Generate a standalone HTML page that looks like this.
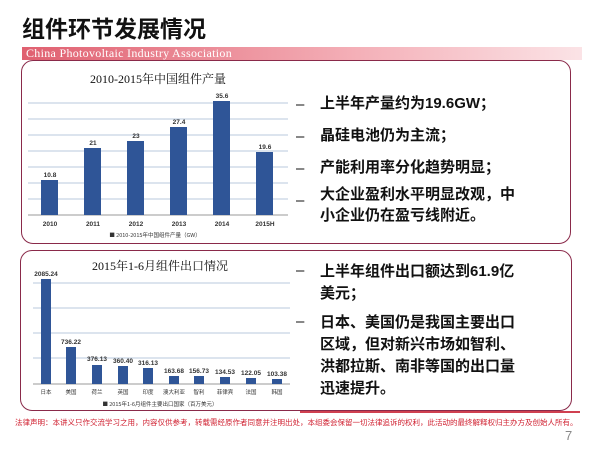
<!DOCTYPE html>
<html><head><meta charset="utf-8"><style>
body{margin:0;width:600px;height:450px;background:#fff;position:relative;overflow:hidden;font-family:"Liberation Sans","Noto Sans CJK SC",sans-serif}
.a{position:absolute;white-space:nowrap}
.panel{position:absolute;border:1.5px solid #8a2a4a;border-radius:12px;box-sizing:border-box}
.t{font-weight:bold;font-size:15px;color:#111}
</style></head><body>
<div class="a" style="left:22px;top:10px;font-size:23px;font-weight:bold;color:#111;font-family:'Noto Sans CJK SC',sans-serif">组件环节发展情况</div>
<div class="a" style="left:22px;top:47px;width:560px;height:13px;background:linear-gradient(90deg,#e06070,#f4b0b8 60%,#fbe3e6)"></div>
<div class="a" style="left:26px;top:46px;font-size:12px;color:#fff;font-family:'Liberation Serif',serif;letter-spacing:0.3px">China Photovoltaic Industry Association</div>
<div class="panel" style="left:21px;top:60px;width:550px;height:184px"></div>
<div class="panel" style="left:20px;top:250px;width:552px;height:161px"></div>
<svg class="a" style="left:0;top:0" width="600" height="450">
<g font-family="Liberation Serif,Noto Serif CJK SC,serif" font-size="12" fill="#111" text-anchor="middle">
<text x="158" y="83">2010-2015年中国组件产量</text>
<text x="160" y="270">2015年1-6月组件出口情况</text></g>
<g stroke="#b8c8dc" stroke-width="1">
<line x1="28" x2="288" y1="103" y2="103"/><line x1="28" x2="288" y1="119" y2="119"/><line x1="28" x2="288" y1="135" y2="135"/><line x1="28" x2="288" y1="151" y2="151"/><line x1="28" x2="288" y1="167" y2="167"/><line x1="28" x2="288" y1="183" y2="183"/><line x1="28" x2="288" y1="199" y2="199"/>
<line x1="33" x2="290" y1="283" y2="283"/><line x1="33" x2="290" y1="308" y2="308"/><line x1="33" x2="290" y1="333" y2="333"/><line x1="33" x2="290" y1="358" y2="358"/></g>
<line x1="28" x2="288" y1="215" y2="215" stroke="#999"/>
<line x1="33" x2="290" y1="384" y2="384" stroke="#999"/>
<g fill="#2f5597">
<rect x="41" y="180" width="17" height="35"/><rect x="84" y="148" width="17" height="67"/><rect x="127" y="141" width="17" height="74"/><rect x="170" y="127" width="17" height="88"/><rect x="213" y="101" width="17" height="114"/><rect x="256" y="152" width="17" height="63"/>
<rect x="41" y="279" width="10" height="105"/><rect x="66" y="347" width="10" height="37"/><rect x="92" y="365" width="10" height="19"/><rect x="118" y="366" width="10" height="18"/><rect x="143" y="368" width="10" height="16"/><rect x="169" y="376" width="10" height="8"/><rect x="194" y="376" width="10" height="8"/><rect x="220" y="377" width="10" height="7"/><rect x="246" y="378" width="10" height="6"/><rect x="272" y="379" width="10" height="5"/>
</g>
<g font-size="6.5" font-weight="bold" fill="#333" text-anchor="middle">
<text x="50" y="177">10.8</text><text x="93" y="145">21</text><text x="136" y="138">23</text><text x="179" y="124">27.4</text><text x="222" y="98">35.6</text><text x="265" y="149">19.6</text>
<text x="50" y="226">2010</text><text x="93" y="226">2011</text><text x="136" y="226">2012</text><text x="179" y="226">2013</text><text x="222" y="226">2014</text><text x="265" y="226">2015H</text>
<text x="46" y="276">2085.24</text><text x="71" y="344">736.22</text><text x="97" y="361">376.13</text><text x="123" y="363">360.40</text><text x="148" y="365">316.13</text><text x="174" y="373">163.68</text><text x="199" y="373">156.73</text><text x="225" y="374">134.53</text><text x="251" y="375">122.05</text><text x="277" y="376">103.38</text>
</g>
<g font-size="5.5" fill="#333" text-anchor="middle" font-family="Noto Sans CJK SC,sans-serif">
<text x="46" y="394">日本</text><text x="71" y="394">美国</text><text x="97" y="394">荷兰</text><text x="123" y="394">英国</text><text x="148" y="394">印度</text><text x="174" y="394">澳大利亚</text><text x="199" y="394">智利</text><text x="225" y="394">菲律宾</text><text x="251" y="394">法国</text><text x="277" y="394">韩国</text>
<text x="155" y="237">■ 2010-2015年中国组件产量（GW）</text>
<text x="160" y="406">■ 2015年1-6月组件主要出口国家（百万美元）</text></g>
</svg>
<div class="a" style="left:296px;top:89px;font-size:15px;line-height:32px;color:#111">–<br>–<br>–<br>–</div>
<div class="a t" style="left:320px;top:88px;line-height:32px">上半年产量约为19.6GW；<br>晶硅电池仍为主流；<br>产能利用率分化趋势明显；</div>
<div class="a t" style="left:320px;top:184px;line-height:21px">大企业盈利水平明显改观，中<br>小企业仍在盈亏线附近。</div>
<div class="a" style="left:296px;top:262px;font-size:15px;color:#111">–</div>
<div class="a t" style="left:320px;top:261px;line-height:22px">上半年组件出口额达到61.9亿<br>美元；</div>
<div class="a" style="left:296px;top:313px;font-size:15px;color:#111">–</div>
<div class="a t" style="left:320px;top:312px;line-height:22px">日本、美国仍是我国主要出口<br>区域，但对新兴市场如智利、<br>洪都拉斯、南非等国的出口量<br>迅速提升。</div>
<div class="a" style="left:300px;top:411px;width:280px;height:2px;background:#d04050"></div>
<div class="a" style="left:15px;top:417px;font-size:7.5px;color:#d02030;font-family:'Noto Sans CJK SC',sans-serif">法律声明：本讲义只作交流学习之用，内容仅供参考，转载需经原作者同意并注明出处，本组委会保留一切法律追诉的权利，此活动的最终解释权归主办方及创始人所有。</div>
<div class="a" style="left:565px;top:428px;font-size:13px;color:#888">7</div>
</body></html>
